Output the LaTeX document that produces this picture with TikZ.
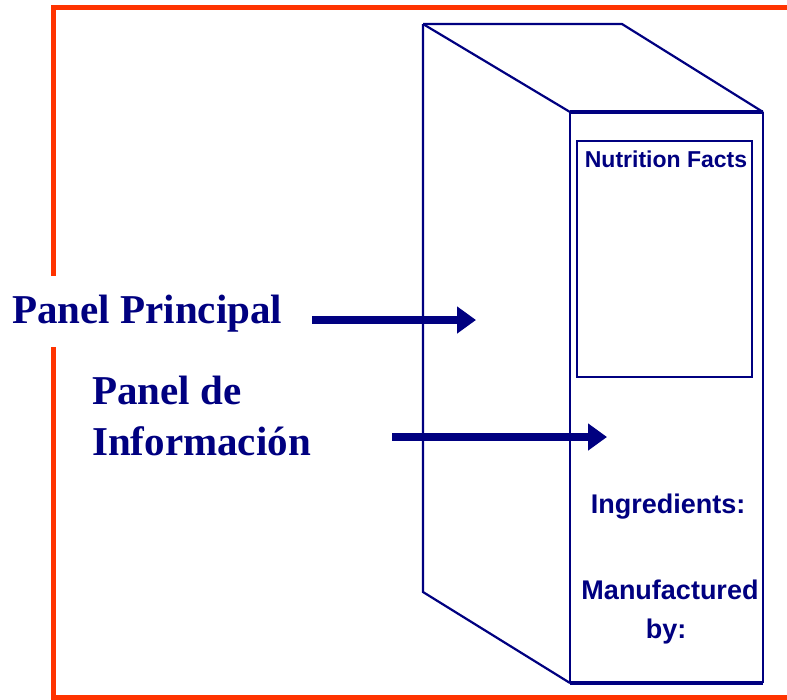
\documentclass[tikz,border=0pt]{standalone}
\usepackage{fontspec}
\setmainfont{Liberation Serif}
\newfontfamily\boxfont{Liberation Sans}
\usetikzlibrary{arrows.meta}
\definecolor{navyc}{RGB}{0,0,128}
\definecolor{framec}{RGB}{255,51,0}
\begin{document}
\begin{tikzpicture}[x=1pt,y=-1pt,
  frameline/.style={draw=framec, line width=5pt},
  boxline/.style={draw=navyc, line width=2.2pt, line join=miter},
  boxbold/.style={draw=navyc, line width=4.5pt},
  pointer/.style={draw=navyc, line width=8pt, -{Triangle[length=19pt,width=26pt]}},
  paneltext/.style={text=navyc, font=\bfseries\fontsize{41}{51}\selectfont, inner sep=0pt, anchor=base west},
  boxtext/.style={text=navyc, font=\boxfont\bfseries\fontsize{27}{32}\selectfont, inner sep=0pt, anchor=base}]
\useasboundingbox (0,0) rectangle (787,699);
% frame
\draw[frameline] (787,7.5) -- (53.5,7.5) -- (53.5,276);
\draw[frameline] (53.5,347) -- (53.5,697) -- (787,697);
% box corners
\coordinate (A) at (423,24);
\coordinate (B) at (622,24);
\coordinate (C) at (763,112);
\coordinate (D) at (570,112);
\coordinate (E) at (570,683);
\coordinate (F) at (763,683);
\coordinate (G) at (423,592);
\draw[boxline] (A) -- (B) -- (C);
\draw[boxline] (A) -- (D);
\draw[boxline] (A) -- (G) -- (E);
\draw[boxline] (D) -- (E);
\draw[boxline] (C) -- (F);
\draw[boxbold] (D) -- (C);
\draw[boxbold] (E) -- (F);
% nutrition panel
\node[boxline, inner sep=0pt, minimum width=175pt, minimum height=236pt, anchor=north west] (nf) at (576,140) {};
\node[boxtext, font=\boxfont\bfseries\fontsize{23}{27}\selectfont] (nft) at (666,167) {Nutrition Facts};
\node[boxtext] (ing) at (668,513) {Ingredients:};
\node[boxtext] (man) at (670,599) {Manufactured};
\node[boxtext] (by) at (666,638) {by:};
% labels
\node[paneltext] (pp) at (12,323) {Panel Principal};
\node[paneltext] (pi1) at (92,404) {Panel de};
\node[paneltext] (pi2) at (92,455) {Información};
% arrows
\coordinate (a1s) at (312,320);
\coordinate (a1e) at (476,320);
\coordinate (a2s) at (392,437);
\coordinate (a2e) at (607,437);
\draw[pointer] (a1s) -- (a1e);
\draw[pointer] (a2s) -- (a2e);
\end{tikzpicture}
\end{document}
